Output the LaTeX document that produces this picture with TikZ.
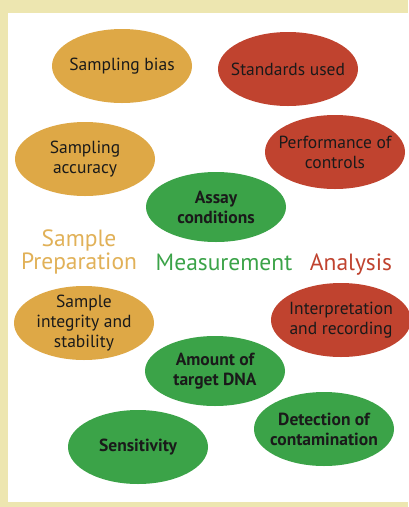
\documentclass[tikz,border=0pt]{standalone}
\usepackage{fontspec}
\setmainfont{PT Sans}
\usetikzlibrary{shapes.geometric}
\definecolor{framecol}{HTML}{EDE6B0}
\definecolor{prepcol}{HTML}{DEA846}
\definecolor{meascol}{HTML}{3BA348}
\definecolor{anacol}{HTML}{C0432F}
\definecolor{inkcol}{HTML}{1A1A1A}
\begin{document}
\begin{tikzpicture}[x=1pt, y=-1pt,
		bubble/.style={ellipse, minimum width=140pt, minimum height=74pt,
			inner xsep=-25pt, inner ysep=-15pt,
			align=center, text=inkcol, font=\fontsize{17.5}{20}\selectfont},
		prep node/.style={bubble, fill=prepcol},
		ana node/.style={bubble, fill=anacol},
		meas node/.style={bubble, fill=meascol, font=\fontsize{17.5}{20}\selectfont\bfseries},
		head/.style={align=center, anchor=base, font=\fontsize{23.5}{17.5}\selectfont}]
		
		\useasboundingbox (0,0) rectangle (408,507);
		\fill[framecol] (0,0) rectangle (408,507);
		\fill[white] (8,13) rectangle (408,502);
		
		% sample preparation
		\node[prep node] (1) at (122,66) {Sampling bias};
		\node[prep node] (2) at (85,159) {Sampling\\accuracy};
		\node[prep node] (3) at (84,323) {Sample\\integrity and\\stability};
		
		% analysis
		\node[ana node] (4) at (288,69) {Standards used};
		\node[ana node] (5) at (335,152) {Performance of\\controls};
		\node[ana node] (6) at (341,320) {Interpretation\\and recording};
		
		% measurement
		\node[meas node, minimum height=70pt] (7) at (216,207) {Assay\\conditions};
		\node[meas node, minimum height=70pt] (8) at (215,371) {Amount of\\target DNA};
		\node[meas node] (9) at (324,429) {Detection of\\contamination};
		\node[meas node] (10) at (138,447) {Sensitivity};
		
		\node[head, text=prepcol!90!white] (11) at (79,269) {Sample\\Preparation};
		\node[head, text=meascol] (12) at (224,270) {Measurement};
		\node[head, text=anacol] (13) at (351,270) {Analysis};
		\end{tikzpicture}
\end{document}
